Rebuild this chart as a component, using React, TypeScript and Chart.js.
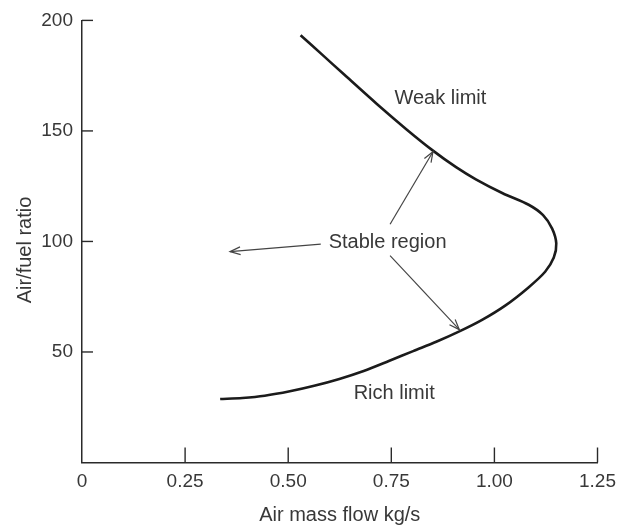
import React, { useEffect, useRef } from 'react';
import { Chart, registerables } from 'chart.js';

Chart.register(...registerables);

// Stability loop: air mass flow (kg/s) vs air/fuel ratio, traced from weak limit round to rich limit
const flowKgS = [
  0.530, 0.583, 0.635, 0.715, 0.787, 0.851, 0.907, 0.955, 1.020, 1.083, 1.118, 1.140, 1.150,
  1.144, 1.123, 1.082, 1.027, 0.969, 0.915, 0.859, 0.803, 0.744, 0.683, 0.624, 0.563, 0.504,
  0.443, 0.389, 0.335,
];
const airFuelRatio = [
  193.3, 184.4, 175.6, 162.2, 150.7, 141.1, 133.6, 128.1, 121.8, 116.6, 111.9, 105.8, 99.1,
  92.7, 86.3, 79.1, 71.1, 64.4, 59.3, 54.6, 50.4, 45.9, 41.4, 37.8, 34.7, 32.2,
  30.2, 29.2, 28.7,
];

const xTickValues = [0, 0.25, 0.5, 0.75, 1.0, 1.25];
const xTickLabels = ['0', '0.25', '0.50', '0.75', '1.00', '1.25'];
const yTickValues = [50, 100, 150, 200];
const yTickLabels = ['50', '100', '150', '200'];

const xTitle = 'Air mass flow kg/s';
const yTitle = 'Air/fuel ratio';

// annotation texts (data coordinates)
const noteTexts = ['Weak limit', 'Stable region', 'Rich limit'];
const noteX = [0.869, 0.741, 0.757];
const noteY = [164.5, 99.6, 31.1];

// arrows (data coordinates): from -> to (head at "to")
const arrowFromX = [0.747, 0.579, 0.747];
const arrowFromY = [107.8, 98.8, 93.6];
const arrowToX = [0.851, 0.359, 0.915];
const arrowToY = [140.6, 95.4, 60.1];

const FONT = "'Liberation Sans', Arial, Helvetica, sans-serif";
const TEXT = '#383838';

const overlay = {
  id: 'overlay',
  afterDraw(chart: any) {
    const ctx = chart.ctx;
    const xs = chart.scales.x;
    const ys = chart.scales.y;
    const area = chart.chartArea;
    ctx.save();
    // inward tick marks
    ctx.strokeStyle = '#2a2a2a';
    ctx.lineWidth = 1.4;
    xTickValues.forEach((v) => {
      if (v === 0) return;
      const px = xs.getPixelForValue(v);
      ctx.beginPath();
      ctx.moveTo(px, area.bottom);
      ctx.lineTo(px, area.bottom - 15);
      ctx.stroke();
    });
    yTickValues.forEach((v) => {
      const py = ys.getPixelForValue(v);
      ctx.beginPath();
      ctx.moveTo(area.left, py);
      ctx.lineTo(area.left + 11, py);
      ctx.stroke();
    });

    // axis titles
    ctx.fillStyle = TEXT;
    ctx.font = `20px ${FONT}`;
    ctx.textAlign = 'center';
    ctx.textBaseline = 'middle';
    ctx.fillText(xTitle, (area.left + area.right) / 2, 515);
    ctx.save();
    ctx.translate(25, 250);
    ctx.rotate(-Math.PI / 2);
    ctx.fillText(yTitle, 0, 0);
    ctx.restore();

    // annotation texts
    noteTexts.forEach((t, i) => {
      ctx.fillText(t, xs.getPixelForValue(noteX[i]), ys.getPixelForValue(noteY[i]));
    });

    // arrows
    ctx.strokeStyle = '#444';
    ctx.lineWidth = 1.2;
    arrowFromX.forEach((_, i) => {
      const x1 = xs.getPixelForValue(arrowFromX[i]);
      const y1 = ys.getPixelForValue(arrowFromY[i]);
      const x2 = xs.getPixelForValue(arrowToX[i]);
      const y2 = ys.getPixelForValue(arrowToY[i]);
      ctx.beginPath();
      ctx.moveTo(x1, y1);
      ctx.lineTo(x2, y2);
      ctx.stroke();
      const ang = Math.atan2(y2 - y1, x2 - x1);
      const len = 11;
      const spread = 0.36;
      ctx.beginPath();
      ctx.moveTo(x2 - len * Math.cos(ang - spread), y2 - len * Math.sin(ang - spread));
      ctx.lineTo(x2, y2);
      ctx.lineTo(x2 - len * Math.cos(ang + spread), y2 - len * Math.sin(ang + spread));
      ctx.stroke();
    });
    ctx.restore();
  },
};

export default function App() {
  const ref = useRef<HTMLCanvasElement | null>(null);
  useEffect(() => {
    document.body.style.margin = '0';
    const canvas = ref.current;
    if (!canvas) return;
    const chart = new Chart(canvas, {
      type: 'scatter',
      data: {
        datasets: [
          {
            data: flowKgS.map((x, i) => ({ x, y: airFuelRatio[i] })),
            showLine: true,
            borderColor: '#1b1b1b',
            borderWidth: 2.6,
            pointRadius: 0,
            tension: 0.3,
            fill: false,
          },
        ],
      },
      options: {
        responsive: false,
        animation: false,
        devicePixelRatio: 1,
        layout: { padding: { top: 16, right: 21, bottom: 0, left: 0 } },
        plugins: { legend: { display: false }, tooltip: { enabled: false } },
        scales: {
          x: {
            type: 'linear',
            min: 0,
            max: 1.25,
            afterBuildTicks: (s: any) => {
              s.ticks = xTickValues.map((v) => ({ value: v }));
            },
            afterFit: (s: any) => {
              s.height = 66.5;
            },
            grid: { display: false, drawTicks: false },
            border: { display: true, color: '#2a2a2a', width: 1.5 },
            ticks: {
              autoSkip: false,
              maxRotation: 0,
              padding: 8,
              color: TEXT,
              font: { family: FONT, size: 19 },
              callback: (_v: any, i: number) => xTickLabels[i],
            },
          },
          y: {
            type: 'linear',
            min: 0,
            max: 200,
            afterBuildTicks: (s: any) => {
              s.ticks = yTickValues.map((v) => ({ value: v }));
            },
            afterFit: (s: any) => {
              s.width = 82;
            },
            grid: { display: false, drawTicks: false },
            border: { display: true, color: '#2a2a2a', width: 1.5 },
            ticks: {
              autoSkip: false,
              padding: 9,
              color: TEXT,
              font: { family: FONT, size: 19 },
              callback: (_v: any, i: number) => yTickLabels[i],
            },
          },
        },
      },
      plugins: [overlay],
    });
    return () => chart.destroy();
  }, []);
  return (
    <div style={{ width: 624, height: 529, background: '#fff' }}>
      <canvas ref={ref} width={624} height={529} />
    </div>
  );
}
